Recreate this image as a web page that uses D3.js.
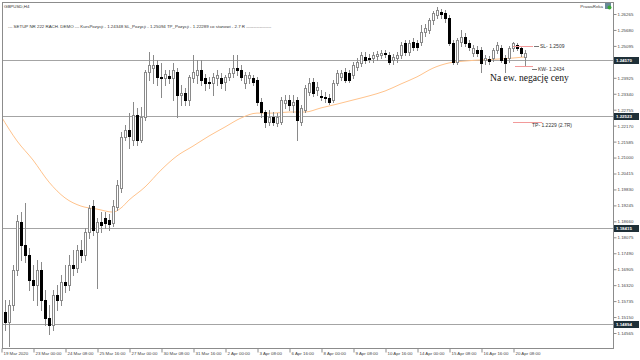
<!DOCTYPE html>
<html><head><meta charset="utf-8">
<script src="https://cdn.jsdelivr.net/npm/d3@7"></script>
<style>body{margin:0;background:#fff}svg{display:block}</style>
</head><body><svg id="c" width="640" height="360"></svg>
<script>
// ---- data (GBPUSD, H4) ----
const open  = [1.1596,1.1533,1.1497,1.1559,1.1687,1.1864,1.1779,1.1742,1.1651,1.1632,1.1687,1.1577,1.1511,1.1486,1.1596,1.1577,1.1643,1.1632,1.1706,1.1695,1.1761,1.1742,1.1827,1.1922,1.1827,1.1864,1.1878,1.1871,1.1860,1.1919,1.1988,1.2175,1.2201,1.2164,1.2256,1.2164,1.2249,1.2414,1.2428,1.2439,1.2395,1.2392,1.2399,1.2392,1.2414,1.2329,1.2337,1.2311,1.2392,1.2403,1.2421,1.2392,1.2377,1.2373,1.2392,1.2392,1.2377,1.2395,1.2410,1.2428,1.2421,1.2373,1.2392,1.2392,1.2384,1.2304,1.2267,1.2230,1.2249,1.2227,1.2230,1.2300,1.2311,1.2293,1.2311,1.2230,1.2274,1.2340,1.2377,1.2348,1.2326,1.2322,1.2318,1.2311,1.2373,1.2395,1.2414,1.2410,1.2403,1.2432,1.2447,1.2469,1.2465,1.2465,1.2472,1.2476,1.2483,1.2476,1.2458,1.2465,1.2476,1.2520,1.2487,1.2524,1.2520,1.2524,1.2560,1.2568,1.2604,1.2623,1.2634,1.2630,1.2612,1.2520,1.2450,1.2524,1.2542,1.2520,1.2483,1.2494,1.2494,1.2458,1.2461,1.2465,1.2494,1.2502,1.2465,1.2465,1.2502,1.2513,1.2502,1.2469];
const high  = [1.1621,1.1577,1.1577,1.1706,1.1889,1.1900,1.1933,1.1768,1.1706,1.1724,1.1717,1.1614,1.1559,1.1614,1.1632,1.1669,1.1706,1.1742,1.1761,1.1779,1.1798,1.1842,1.1926,1.1944,1.1878,1.1900,1.1900,1.1893,1.1944,1.2018,1.2194,1.2219,1.2263,1.2304,1.2282,1.2285,1.2421,1.2487,1.2476,1.2458,1.2447,1.2421,1.2421,1.2447,1.2428,1.2366,1.2355,1.2403,1.2476,1.2458,1.2458,1.2406,1.2395,1.2410,1.2421,1.2410,1.2403,1.2428,1.2476,1.2476,1.2439,1.2414,1.2414,1.2403,1.2395,1.2318,1.2274,1.2274,1.2267,1.2263,1.2322,1.2329,1.2329,1.2329,1.2322,1.2293,1.2366,1.2392,1.2392,1.2377,1.2348,1.2340,1.2333,1.2384,1.2421,1.2421,1.2428,1.2421,1.2450,1.2465,1.2487,1.2487,1.2480,1.2487,1.2491,1.2494,1.2494,1.2487,1.2480,1.2487,1.2524,1.2531,1.2531,1.2538,1.2531,1.2586,1.2590,1.2612,1.2637,1.2652,1.2645,1.2641,1.2623,1.2531,1.2538,1.2568,1.2557,1.2531,1.2513,1.2509,1.2505,1.2476,1.2472,1.2502,1.2524,1.2513,1.2476,1.2509,1.2524,1.2520,1.2509,1.2494];
const low   = [1.1511,1.1467,1.1409,1.1541,1.1669,1.1724,1.1717,1.1614,1.1577,1.1559,1.1541,1.1486,1.1453,1.1467,1.1541,1.1559,1.1607,1.1614,1.1669,1.1680,1.1717,1.1724,1.1805,1.1816,1.1621,1.1827,1.1842,1.1834,1.1849,1.1908,1.1974,1.2164,1.2135,1.2146,1.2146,1.2157,1.2238,1.2384,1.2373,1.2366,1.2322,1.2366,1.2373,1.2311,1.2249,1.2293,1.2293,1.2293,1.2377,1.2373,1.2366,1.2348,1.2355,1.2329,1.2366,1.2355,1.2348,1.2384,1.2395,1.2403,1.2384,1.2355,1.2373,1.2366,1.2293,1.2249,1.2212,1.2219,1.2219,1.2216,1.2223,1.2282,1.2274,1.2267,1.2164,1.2219,1.2267,1.2329,1.2326,1.2329,1.2311,1.2304,1.2296,1.2304,1.2366,1.2384,1.2377,1.2377,1.2392,1.2421,1.2436,1.2447,1.2450,1.2450,1.2458,1.2465,1.2469,1.2443,1.2443,1.2450,1.2465,1.2476,1.2476,1.2494,1.2494,1.2513,1.2546,1.2557,1.2590,1.2612,1.2612,1.2597,1.2513,1.2443,1.2443,1.2509,1.2509,1.2494,1.2472,1.2472,1.2414,1.2443,1.2443,1.2454,1.2483,1.2450,1.2414,1.2450,1.2491,1.2494,1.2472,1.2439];
const close = [1.1533,1.1497,1.1559,1.1687,1.1867,1.1779,1.1742,1.1651,1.1632,1.1687,1.1577,1.1511,1.1486,1.1596,1.1577,1.1643,1.1632,1.1706,1.1695,1.1761,1.1742,1.1827,1.1915,1.1834,1.1864,1.1853,1.1860,1.1856,1.1922,1.1999,1.2175,1.2201,1.2179,1.2256,1.2164,1.2249,1.2414,1.2439,1.2439,1.2395,1.2392,1.2406,1.2392,1.2421,1.2329,1.2337,1.2311,1.2395,1.2414,1.2421,1.2384,1.2373,1.2373,1.2395,1.2403,1.2373,1.2395,1.2410,1.2428,1.2421,1.2395,1.2403,1.2403,1.2377,1.2304,1.2267,1.2230,1.2249,1.2230,1.2249,1.2311,1.2311,1.2293,1.2304,1.2238,1.2282,1.2355,1.2373,1.2337,1.2359,1.2322,1.2318,1.2304,1.2373,1.2410,1.2410,1.2384,1.2384,1.2439,1.2450,1.2476,1.2458,1.2461,1.2476,1.2480,1.2483,1.2480,1.2450,1.2469,1.2476,1.2513,1.2487,1.2520,1.2505,1.2505,1.2560,1.2575,1.2604,1.2630,1.2641,1.2626,1.2612,1.2520,1.2450,1.2531,1.2542,1.2520,1.2505,1.2502,1.2483,1.2447,1.2465,1.2454,1.2494,1.2513,1.2458,1.2447,1.2502,1.2520,1.2502,1.2483,1.2483];

const maIdx = [0,4,8,12,16,20,24,28,30,32,36,40,44,48,52,56,60,64,68,72,76,80,84,88,92,96,100,104,108,112,116,120,124,128,131];
const maVal = [1.2252,1.2161,1.2091,1.2010,1.1952,1.1922,1.1911,1.1900,1.1915,1.1944,1.1992,1.2054,1.2106,1.2142,1.2179,1.2212,1.2245,1.2263,1.2263,1.2267,1.2267,1.2282,1.2296,1.2311,1.2326,1.2344,1.2370,1.2396,1.2428,1.2447,1.2454,1.2458,1.2461,1.2465,1.2469];

const levels = [1.24570, 1.22523, 1.18415, 1.14894];
const yTicks = [1.26265,1.25680,1.25095,1.23925,1.23340,1.22755,1.22170,1.21585,1.21000,1.20415,1.19830,1.19245,1.18660,1.18075,1.17490,1.16905,1.16320,1.15735,1.15150,1.14565];
const xTickIdx = [0,8,16,24,32,40,48,56,64,72,80,88,96,104,112,120,128];
const xTickLabels = ["19 Mar 2020","23 Mar 00:00","24 Mar 08:00","25 Mar 16:00","27 Mar 00:00","30 Mar 08:00","31 Mar 16:00","2 Apr 00:00","3 Apr 08:00","6 Apr 16:00","8 Apr 00:00","9 Apr 08:00","10 Apr 16:00","14 Apr 00:00","15 Apr 08:00","16 Apr 16:00","20 Apr 08:00"];

const tradeSL = 1.2509, tradeKW = 1.2434, tradeTP = 1.2229;
const headerText = "--- SETUP NR 222 RACH. DEMO --- KursPozycji - 1.24348 SL_Pozycji - 1.25094 TP_Pozycji - 1.22289 co stanowi - 2.7 R -----------------";

// ---- drawing ----
const svg = d3.select('#c');
const L=2, R=613, T=2, B=348;
const FS = 4.4, FONT = "'Liberation Sans', Arial, sans-serif";
const x = d3.scaleLinear().domain([0,131]).range([1,525]);
const y = d3.scaleLinear().domain([1.14565,1.26265]).range([333,14]);

svg.append('rect').attr('width',640).attr('height',360).attr('fill','#fff');

svg.append('clipPath').attr('id','clip').append('rect')
  .attr('x',L+1).attr('y',T+1).attr('width',R-L-1).attr('height',B-T-1);
const g = svg.append('g').attr('clip-path','url(#clip)');

// horizontal levels
levels.forEach(v=>{
  const yy = Math.round(y(v))+0.5;
  g.append('line').attr('x1',L).attr('x2',R).attr('y1',yy).attr('y2',yy)
    .attr('stroke','#a4a4a4').attr('stroke-width',1);
});

// moving average
g.append('path')
  .datum(maIdx.map((d,i)=>[d,maVal[i]]))
  .attr('d', d3.line().x(d=>x(d[0])).y(d=>y(d[1])).curve(d3.curveMonotoneX))
  .attr('fill','none').attr('stroke','#ffc38c').attr('stroke-width',1);

// candles
open.forEach((o,i)=>{
  const c = close[i];
  const cx = Math.round(x(i));
  const yh = Math.round(y(high[i])), yl = Math.round(y(low[i]));
  g.append('line').attr('x1',cx+0.5).attr('x2',cx+0.5).attr('y1',yh).attr('y2',yl+1)
    .attr('stroke','#8a8a8a').attr('stroke-width',1);
  const yo = Math.round(y(o)), yc = Math.round(y(c));
  const top = Math.min(yo,yc), bot = Math.max(yo,yc);
  const bull = c >= o;
  if (bot - top < 1) {
    g.append('line').attr('x1',cx-1).attr('x2',cx+2).attr('y1',top+0.5).attr('y2',top+0.5)
      .attr('stroke', bull ? '#8a8a8a' : '#000');
  } else {
    g.append('rect').attr('x',cx-0.5).attr('y',top+0.5).attr('width',2).attr('height',bot-top)
      .attr('fill', bull ? '#fff' : '#000').attr('stroke', bull ? '#8a8a8a' : '#000').attr('stroke-width',1);
  }
});

// trade lines
function tradeLine(v, i0, i1){
  const yy = Math.round(y(v))+0.5;
  g.append('line').attr('x1',x(i0)).attr('x2',x(i1)).attr('y1',yy).attr('y2',yy)
    .attr('stroke','#f29a9a').attr('stroke-width',1);
  return yy;
}
const ySL = tradeLine(tradeSL,128,133);
const yKW = tradeLine(tradeKW,128.5,133);
const yTP = tradeLine(tradeTP,128,135.3);

function tradeText(txt, xx, yy, dash){
  if (dash) g.append('line').attr('x1',xx-6).attr('x2',xx-1).attr('y1',yy).attr('y2',yy).attr('stroke','#777');
  g.append('text').attr('x',xx).attr('y',yy+1.8).text(txt)
    .attr('font-family',FONT).attr('font-size',5).attr('fill','#333');
}
tradeText('SL- 1.2509', 540, ySL, true);
tradeText('KW- 1.2434', 538, yKW+3, true);
tradeText('TP- 1.2229 (2.7R)', 532, yTP+3, false);

g.append('text').attr('x',490).attr('y',81).text('Na ew. negację ceny')
  .attr('font-family',"'Liberation Serif','Times New Roman',serif").attr('font-size',9.6).attr('fill','#111');

// frame
svg.append('rect').attr('x',L+0.5).attr('y',T+0.5).attr('width',R-L).attr('height',B-T)
  .attr('fill','none').attr('stroke','#8c8c8c').attr('stroke-width',1);

// right axis
const ay = svg.append('g').attr('transform',`translate(${R+0.5},0)`)
  .call(d3.axisRight(y).tickValues(yTicks).tickSize(3).tickFormat(d3.format('.5f')));
ay.select('.domain').remove();
ay.selectAll('line').attr('stroke','#8c8c8c');
ay.selectAll('text').attr('x',4).attr('font-family',FONT).attr('font-size',FS).attr('fill','#444');

// level price boxes
levels.forEach(v=>{
  const yy = Math.round(y(v))+0.5;
  svg.append('rect').attr('x',R+1).attr('y',yy-3.5).attr('width',25).attr('height',7).attr('fill','#1f3038');
  svg.append('text').attr('x',R+3).attr('y',yy+1.6).text(d3.format('.5f')(v))
    .attr('font-family',FONT).attr('font-size',FS).attr('font-weight','bold').attr('fill','#fff');
});

// bottom axis
const ax = svg.append('g').attr('transform',`translate(0,${B+0.5})`)
  .call(d3.axisBottom(x).tickValues(xTickIdx).tickSize(4).tickFormat((d,i)=>xTickLabels[i]));
ax.select('.domain').remove();
ax.selectAll('line').attr('stroke','#8c8c8c').attr('transform','translate(0.5,0)');
ax.selectAll('text').attr('text-anchor','start').attr('x',2).attr('y',3.5).attr('dy','0.71em')
  .attr('font-family',FONT).attr('font-size',FS).attr('fill','#444');

// header
svg.append('text').attr('x',4).attr('y',8).text('GBPUSD,H4')
  .attr('font-family',FONT).attr('font-size',FS).attr('fill','#333');
svg.append('text').attr('x',8).attr('y',27.5).text(headerText)
  .attr('font-family',FONT).attr('font-size',FS).attr('fill','#333');
svg.append('text').attr('x',603).attr('y',8).attr('text-anchor','end').text('PrawaReka')
  .attr('font-family',FONT).attr('font-size',FS).attr('fill','#444');
svg.append('rect').attr('x',605).attr('y',3).attr('width',6).attr('height',6).attr('fill','#6a8a9a');
svg.append('circle').attr('cx',609.5).attr('cy',7.5).attr('r',2).attr('fill','#3aa83a');
</script></body></html>
